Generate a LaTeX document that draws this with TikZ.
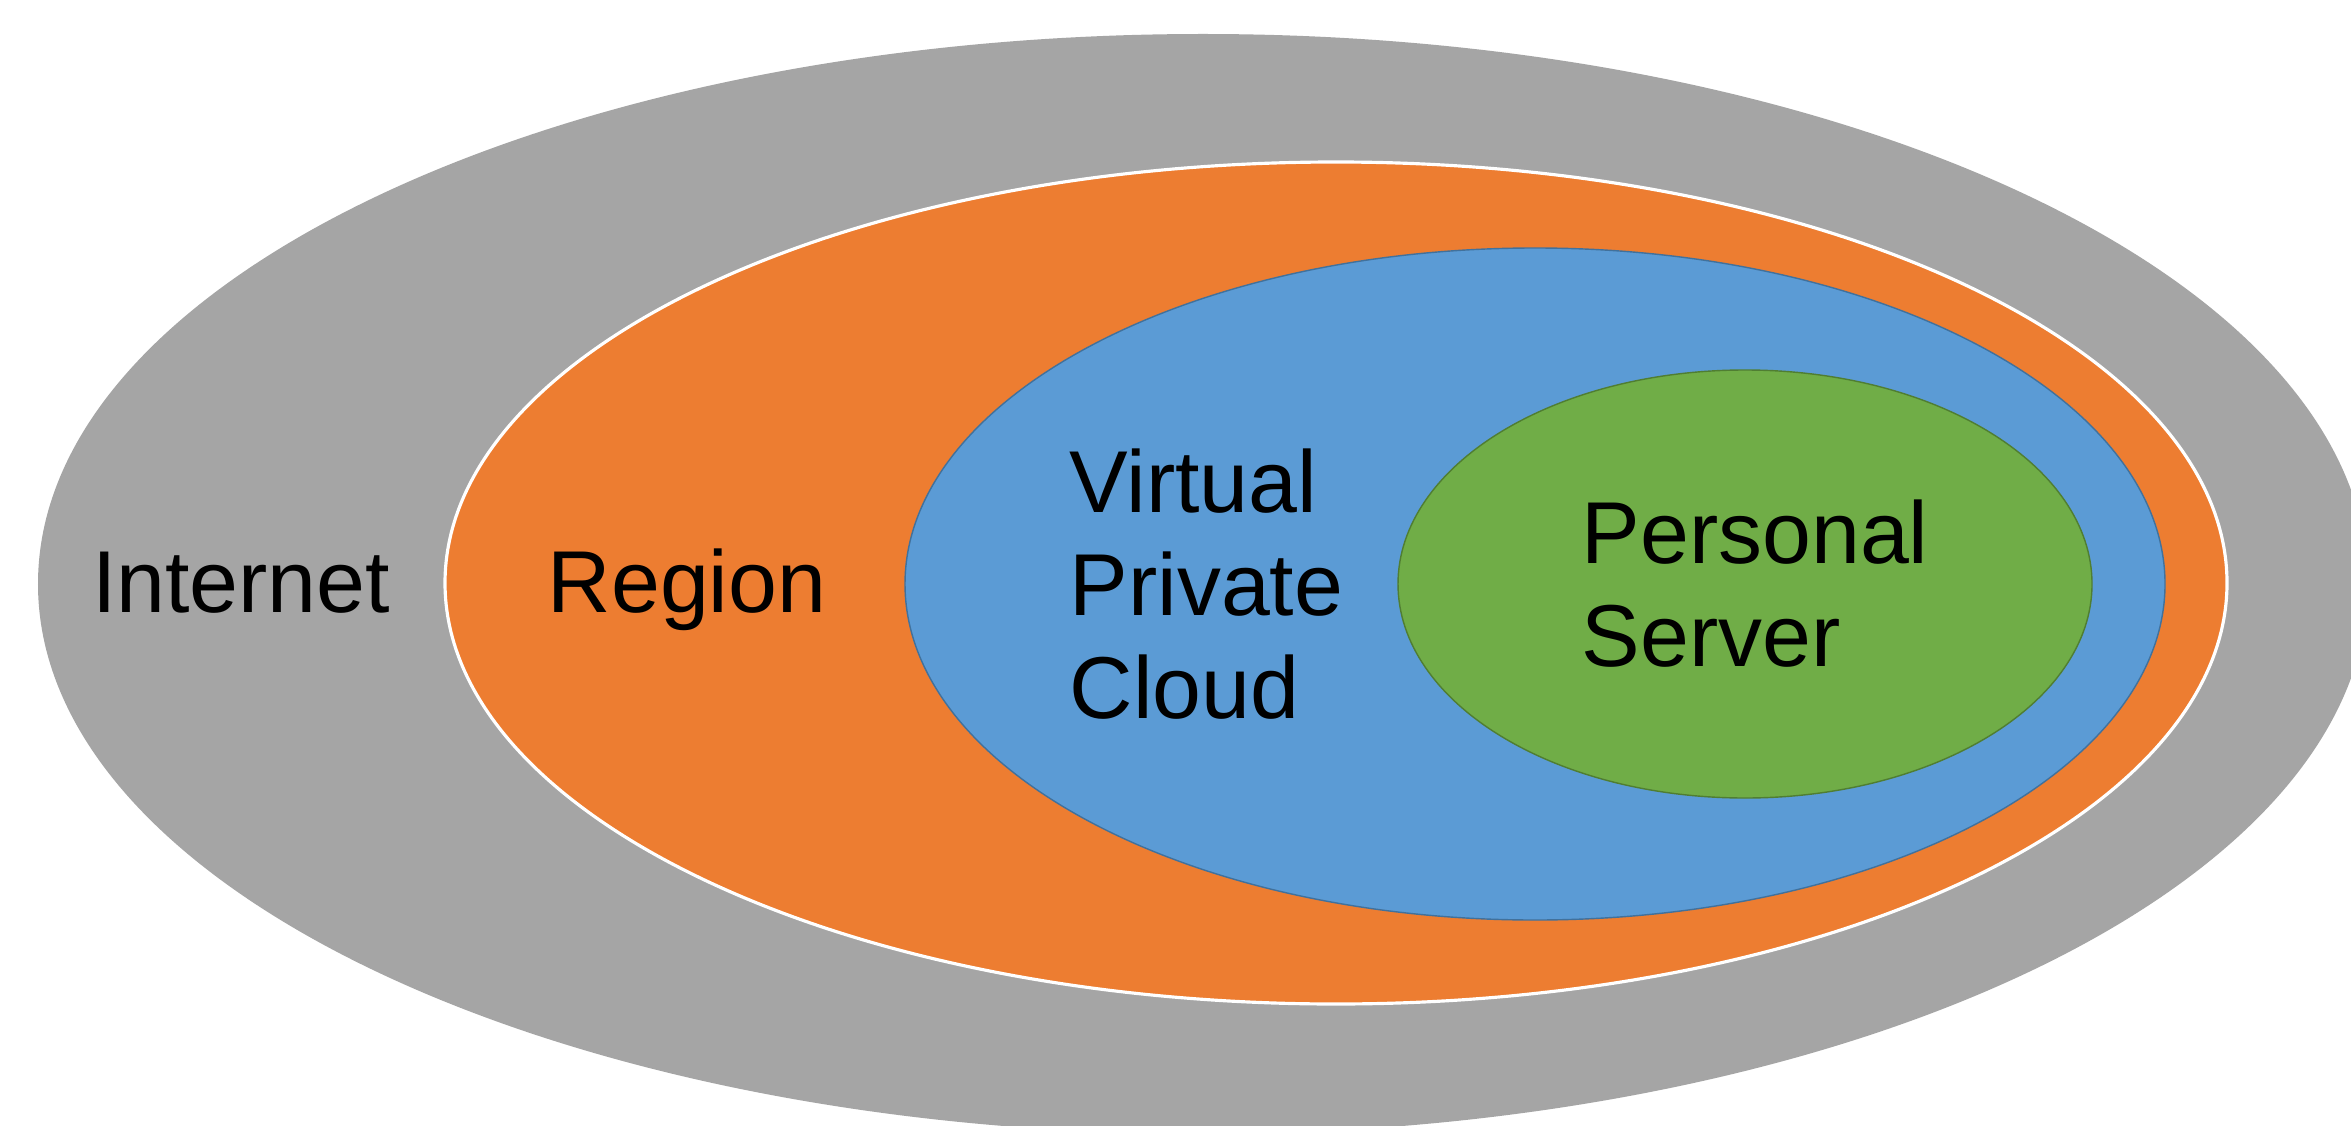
\documentclass[tikz,border=0pt]{standalone}
\usepackage{fontspec}
\setmainfont{Liberation Sans}
\usepackage{tikz}
\usetikzlibrary{shapes.geometric,positioning}

\definecolor{netgray}{HTML}{A5A5A5}
\definecolor{regorange}{HTML}{ED7D31}
\definecolor{vpcblue}{HTML}{5B9BD5}
\definecolor{vpcline}{HTML}{41719C}
\definecolor{srvgreen}{HTML}{70AD47}
\definecolor{srvline}{HTML}{507E32}

\begin{document}
\begin{tikzpicture}
\tikzstyle{E}=[ellipse,inner sep=0pt,outer sep=0pt]
\tikzstyle{T}=[inner sep=0pt,align=left,font=\fontsize{25}{29.3}\selectfont]
\useasboundingbox (0,0) rectangle (23.51,11.25);
\clip (0,0) rectangle (23.51,11.25);
\fill[white] (0,0) rectangle (23.51,11.25);
% nested zones
\node[E,fill=netgray,minimum width=23.30cm,minimum height=11.00cm] (inet) at (12.03,5.41) {};
\node[E,fill=regorange,draw=white,line width=0.9pt,minimum width=17.82cm,minimum height=8.42cm] (region) at (13.36,5.42) {};
\node[E,fill=vpcblue,draw=vpcline,line width=0.4pt,minimum width=12.60cm,minimum height=6.72cm] (vpc) at (15.35,5.41) {};
\node[E,fill=srvgreen,draw=srvline,line width=0.4pt,minimum width=6.94cm,minimum height=4.28cm] (pserver) at (17.45,5.41) {};
% labels
\node[T,anchor=base] (tinet) at (2.41,5.13) {Internet};
\node[T,anchor=base] (tregion) at (6.87,5.13) {Region};
\node[T,anchor=west] (tvpc) at (10.69,5.41) {Virtual\\Private\\Cloud};
\node[T,anchor=west] (tserver) at (15.81,5.41) {Personal\\Server};
\end{tikzpicture}
\end{document}
